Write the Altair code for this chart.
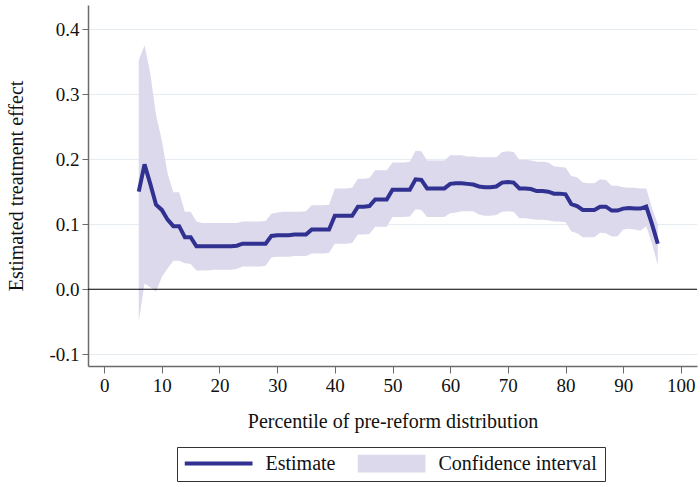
import altair as alt
import pandas as pd

# Percentiles of the pre-reform distribution
percentile = list(range(6, 97))

# Point estimates of the treatment effect
estimate = [
    0.150, 0.192, 0.162, 0.130, 0.122, 0.107, 0.097, 0.097, 0.080, 0.080,  # 6-15
    0.066, 0.066, 0.066, 0.066, 0.066, 0.066, 0.066, 0.067, 0.070, 0.070,  # 16-25
    0.070, 0.070, 0.070, 0.082, 0.083, 0.083, 0.083, 0.084, 0.084, 0.084,  # 26-35
    0.092, 0.092, 0.092, 0.092, 0.113, 0.113, 0.113, 0.113, 0.127, 0.127,  # 36-45
    0.128, 0.138, 0.138, 0.138, 0.153, 0.153, 0.153, 0.153, 0.169, 0.168,  # 46-55
    0.155, 0.155, 0.155, 0.155, 0.162, 0.163, 0.163, 0.162, 0.161, 0.158,  # 56-65
    0.157, 0.157, 0.158, 0.164, 0.165, 0.164, 0.155, 0.155, 0.154, 0.151,  # 66-75
    0.151, 0.150, 0.147, 0.147, 0.146, 0.131, 0.128, 0.122, 0.122, 0.122,  # 76-85
    0.127, 0.127, 0.121, 0.121, 0.124, 0.125, 0.124, 0.124, 0.127, 0.100,  # 86-95
    0.070,                                                                 # 96
]

# Upper bound of the confidence interval
ci_upper = [
    0.352, 0.375, 0.332, 0.268, 0.229, 0.178, 0.149, 0.149, 0.119, 0.119,
    0.104, 0.102, 0.102, 0.102, 0.102, 0.102, 0.102, 0.102, 0.104, 0.104,
    0.104, 0.104, 0.105, 0.116, 0.118, 0.119, 0.119, 0.119, 0.119, 0.120,
    0.129, 0.129, 0.129, 0.130, 0.155, 0.155, 0.155, 0.156, 0.170, 0.170,
    0.171, 0.183, 0.183, 0.183, 0.195, 0.195, 0.195, 0.196, 0.213, 0.212,
    0.198, 0.198, 0.198, 0.198, 0.206, 0.206, 0.206, 0.204, 0.204, 0.203,
    0.203, 0.203, 0.203, 0.211, 0.212, 0.211, 0.199, 0.199, 0.198, 0.196,
    0.196, 0.195, 0.189, 0.188, 0.187, 0.174, 0.172, 0.164, 0.163, 0.163,
    0.169, 0.168, 0.159, 0.159, 0.157, 0.156, 0.156, 0.155, 0.155, 0.125,
    0.100,
]

# Lower bound of the confidence interval
ci_lower = [
    -0.050, 0.009, 0.003, -0.004, 0.019, 0.032, 0.044, 0.044, 0.040, 0.039,
    0.029, 0.029, 0.029, 0.030, 0.030, 0.030, 0.030, 0.031, 0.035, 0.035,
    0.035, 0.035, 0.036, 0.049, 0.050, 0.050, 0.050, 0.051, 0.051, 0.051,
    0.055, 0.055, 0.055, 0.056, 0.070, 0.070, 0.070, 0.071, 0.084, 0.084,
    0.085, 0.096, 0.096, 0.096, 0.111, 0.111, 0.111, 0.112, 0.123, 0.122,
    0.111, 0.111, 0.111, 0.111, 0.117, 0.118, 0.120, 0.120, 0.120, 0.115,
    0.113, 0.113, 0.114, 0.119, 0.120, 0.119, 0.109, 0.109, 0.108, 0.107,
    0.107, 0.106, 0.104, 0.104, 0.103, 0.089, 0.086, 0.080, 0.080, 0.080,
    0.087, 0.086, 0.081, 0.081, 0.092, 0.093, 0.092, 0.090, 0.097, 0.070,
    0.037,
]

x_ticks = [0, 10, 20, 30, 40, 50, 60, 70, 80, 90, 100]
y_ticks = [-0.1, 0.0, 0.1, 0.2, 0.3, 0.4]
legend_labels = ["Estimate", "Confidence interval"]

LINE_COLOR = "#303190"
BAND_COLOR = "#dcd9ec"
AXIS_COLOR = "#6b6b6b"
FONT = "Liberation Serif"

df = pd.DataFrame({
    "p": percentile,
    "est": estimate,
    "lo": ci_lower,
    "hi": ci_upper,
})
legend_df = pd.DataFrame({"series": legend_labels, "p": [0, 0], "est": [0.0, 0.0]})

x_scale = alt.Scale(domain=[-2.8, 102.8], nice=False, zero=False)
y_scale = alt.Scale(domain=[-0.118, 0.437], nice=False, zero=False)

x_axis = alt.Axis(
    values=x_ticks, title="Percentile of pre-reform distribution", grid=False,
    tickSize=7, tickColor=AXIS_COLOR, domainColor=AXIS_COLOR, domainWidth=1.5,
    labelFont=FONT, labelFontSize=19, labelColor="#111111", labelPadding=3,
    titleFont=FONT, titleFontSize=20, titleFontWeight="normal", titleColor="#111111",
    titlePadding=16,
)
y_axis = alt.Axis(
    values=y_ticks, title="Estimated treatment effect",
    labelExpr="replace(format(datum.value, '.1f'), '\u2212', '-')",
    grid=True, gridColor="#e6edf2", gridWidth=1.2,
    tickSize=6, tickColor=AXIS_COLOR, domainColor=AXIS_COLOR, domainWidth=1.5,
    labelFont=FONT, labelFontSize=19, labelColor="#111111", labelPadding=3,
    titleFont=FONT, titleFontSize=20, titleFontWeight="normal", titleColor="#111111",
    titlePadding=22,
)

base = alt.Chart(df)

band = base.mark_area(color=BAND_COLOR, opacity=1).encode(
    x=alt.X("p:Q", scale=x_scale, axis=x_axis),
    y=alt.Y("lo:Q", scale=y_scale, axis=y_axis),
    y2="hi:Q",
)

zero_line = alt.Chart(pd.DataFrame({"y": [0.0]})).mark_rule(
    color="#000000", strokeWidth=1.2
).encode(y=alt.Y("y:Q", scale=y_scale))

line = base.mark_line(color=LINE_COLOR, strokeWidth=4).encode(
    x=alt.X("p:Q", scale=x_scale),
    y=alt.Y("est:Q", scale=y_scale),
)

# Legend carrier: an empty point layer whose colour and shape scales build the key
line_key = "M-1,-0.06H1V0.06H-1Z"
band_key = "M-1,-0.265H1V0.265H-1Z"
legend_props = dict(
    title=None, orient="none", legendX=89, legendY=442, direction="horizontal",
    symbolSize=4624, clipHeight=18, symbolStrokeWidth=0, symbolOpacity=1,
    labelFont=FONT, labelFontSize=20, labelColor="#111111", labelOffset=13,
    columnPadding=22, padding=7.5, strokeColor="#333333", fillColor="#ffffff",
)
key = alt.Chart(legend_df).transform_filter("false").mark_point(
    filled=True, opacity=1, strokeWidth=0
).encode(
    x=alt.X("p:Q", scale=x_scale),
    y=alt.Y("est:Q", scale=y_scale),
    color=alt.Color("series:N", scale=alt.Scale(domain=legend_labels, range=[LINE_COLOR, BAND_COLOR]),
                    legend=alt.Legend(**legend_props)),
    shape=alt.Shape("series:N", scale=alt.Scale(domain=legend_labels, range=[line_key, band_key]),
                    legend=alt.Legend(**legend_props)),
)

chart = alt.layer(band, zero_line, line, key).properties(
    width=609,
    height=361,
    autosize=alt.AutoSizeParams(type="none"),
    padding={"left": 88, "top": 5, "right": 3, "bottom": 121},
    background="#ffffff",
).configure_view(stroke=None)

chart.save("out.html", embed_options={"renderer": "svg", "actions": False})
